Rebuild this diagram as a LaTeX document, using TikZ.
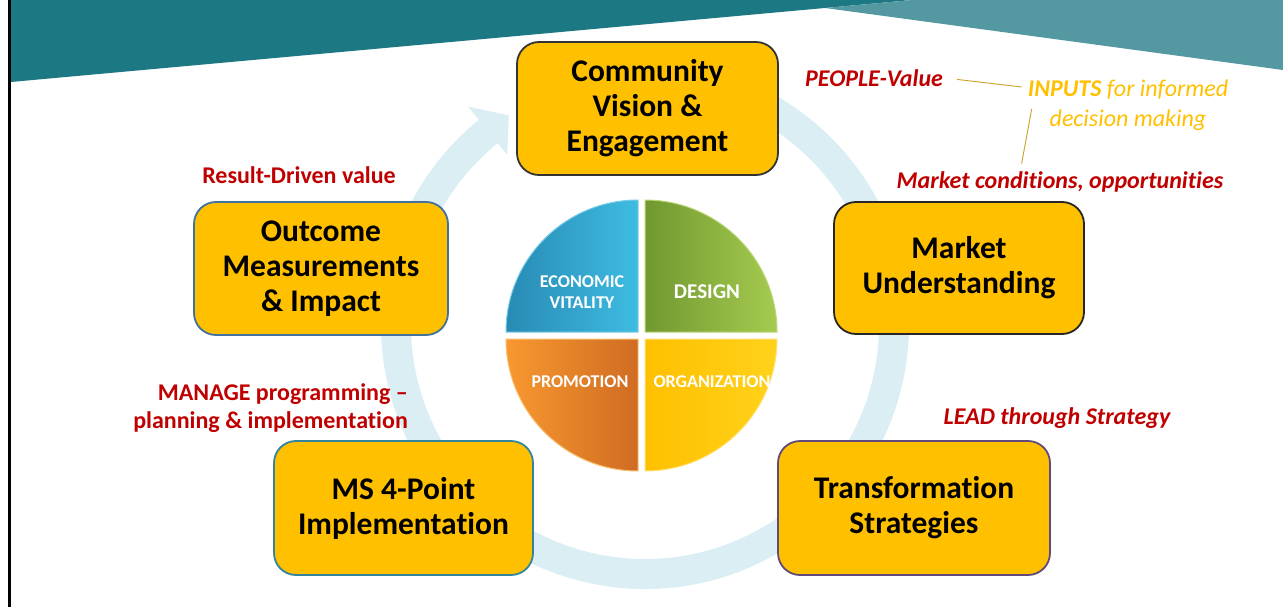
\documentclass[tikz,border=0pt]{standalone}
\usepackage{fontspec}
\setmainfont{Carlito}[Ligatures=NoCommon]
\usetikzlibrary{calc, positioning}

\definecolor{tealdark}{HTML}{1C7984}
\definecolor{teallight}{HTML}{5499A2}
\definecolor{ringblue}{HTML}{DAEEF3}
\definecolor{boxgold}{HTML}{FFC000}
\definecolor{labelred}{HTML}{C00000}
\definecolor{linegold}{HTML}{C9A227}
\definecolor{edgeblue}{HTML}{41719C}
\definecolor{edgeteal}{HTML}{31859C}
\definecolor{edgeplum}{HTML}{604A7B}

\tikzset{
  stagebox/.style={draw, line width=1.8pt, fill=boxgold, rounded corners=22pt, align=center,
    font=\fontsize{31.5}{35}\selectfont\bfseries, inner sep=0pt},
  valuelabel/.style={text=labelred, font=\fontsize{24}{28}\selectfont\bfseries, inner sep=2pt},
  quadlabel/.style={text=white, font=\fontsize{18}{21}\selectfont\bfseries, align=center, inner sep=0pt},
  link/.style={draw=linegold, line width=0.9pt},
}

\begin{document}
\begin{tikzpicture}[x=1pt, y=-1pt]
\useasboundingbox (0,0) rectangle (1283,607);

% Banner
\fill[tealdark] (11,0) -- (11,82) -- (825,8) -- (912,0) -- cycle;
\fill[teallight] (825,8) -- (912,0) -- (1283,0) -- (1283,70) -- cycle;
\fill[black] (8,0) rectangle (11,607);

% Cycle ring
\coordinate (hub) at (645,325);
\fill[ringblue] ([shift={(hub)}]-80:264) arc[start angle=-80, end angle=231, radius=264]
  -- ([shift={(hub)}]231:281) -- ([shift={(hub)}]237:250) -- ([shift={(hub)}]231:219)
  -- ([shift={(hub)}]231:234) arc[start angle=231, end angle=-80, radius=234] -- cycle;

% Four-point pie
\coordinate (pie) at (641.5,335.5);
\path[left color={rgb,255:red,40;green,138;blue,180}, right color={rgb,255:red,62;green,188;blue,226}, draw={rgb,255:red,120;green,205;blue,232}, line width=1pt]
  ([shift={(-3.5,-3.5)}]pie) -- ++(180:132) arc[start angle=180, end angle=270, radius=132] -- cycle;
\path[left color={rgb,255:red,112;green,152;blue,48}, right color={rgb,255:red,166;green,203;blue,80}, draw={rgb,255:red,185;green,215;blue,120}, line width=1pt]
  ([shift={(3.5,-3.5)}]pie) -- ++(270:132) arc[start angle=270, end angle=360, radius=132] -- cycle;
\path[left color={rgb,255:red,248;green,152;blue,48}, right color={rgb,255:red,208;green,108;blue,34}, draw={rgb,255:red,250;green,190;blue,110}, line width=1pt]
  ([shift={(-3.5,3.5)}]pie) -- ++(90:132) arc[start angle=90, end angle=180, radius=132] -- cycle;
\path[left color=boxgold, right color={rgb,255:red,255;green,210;blue,26}, draw={rgb,255:red,255;green,225;blue,120}, line width=1pt]
  ([shift={(3.5,3.5)}]pie) -- ++(0:132) arc[start angle=0, end angle=90, radius=132] -- cycle;

\node[quadlabel] (econ) at (582,292) {ECONOMIC\\VITALITY};
\node[quadlabel, font=\fontsize{21}{24}\selectfont\bfseries] (design) at (707,292) {DESIGN};
\node[quadlabel] (promo) at (580,382) {PROMOTION};
\node[quadlabel] (org) at (712,382) {ORGANIZATION};

% Stages
\node[stagebox, draw=black!80, minimum width=261pt, minimum height=133pt] (community) at (647.5,108.5) {Community\\Vision \&\\Engagement};
\node[stagebox, draw=edgeblue, minimum width=254pt, minimum height=133pt] (outcome) at (321,268.5) {Outcome\\Measurements\\\& Impact};
\node[stagebox, draw=black!85, minimum width=250pt, minimum height=132pt] (market) at (959,268) {Market\\Understanding};
\node[stagebox, draw=edgeteal, minimum width=259pt, minimum height=134pt] (implement) at (403.5,508) {MS 4-Point\\Implementation};
\node[stagebox, draw=edgeplum, minimum width=272pt, minimum height=134pt] (transform) at (914,508) {Transformation\\Strategies};

% Value labels
\node[valuelabel, anchor=west, font=\fontsize{24}{28}\selectfont\bfseries\itshape] (people) at (803,78) {PEOPLE-Value};
\node[text=boxgold, align=center, font=\fontsize{24}{30}\selectfont\itshape, inner sep=2pt] (inputs) at (1128,105) {\textbf{INPUTS} for informed\\decision making};
\node[valuelabel, font=\fontsize{24}{28}\selectfont\bfseries\itshape] (mktcond) at (1060,182) {Market conditions, opportunities};
\node[valuelabel] (result) at (299,175) {Result-Driven value};
\node[valuelabel, align=right, anchor=east] (manage) at (410,408) {MANAGE programming --\\planning \& implementation};
\node[valuelabel, font=\fontsize{24}{28}\selectfont\bfseries\itshape] (lead) at (1057,418) {LEAD through Strategy};

% Links
\draw[link, shorten <=12pt] (people.east) -- ($(inputs.west)+(-4,-18)$);
\draw[link, shorten >=6pt] ($(inputs.west)+(6,4)$) -- ($(mktcond.north west)+(126,0)$);
\end{tikzpicture}
\end{document}
